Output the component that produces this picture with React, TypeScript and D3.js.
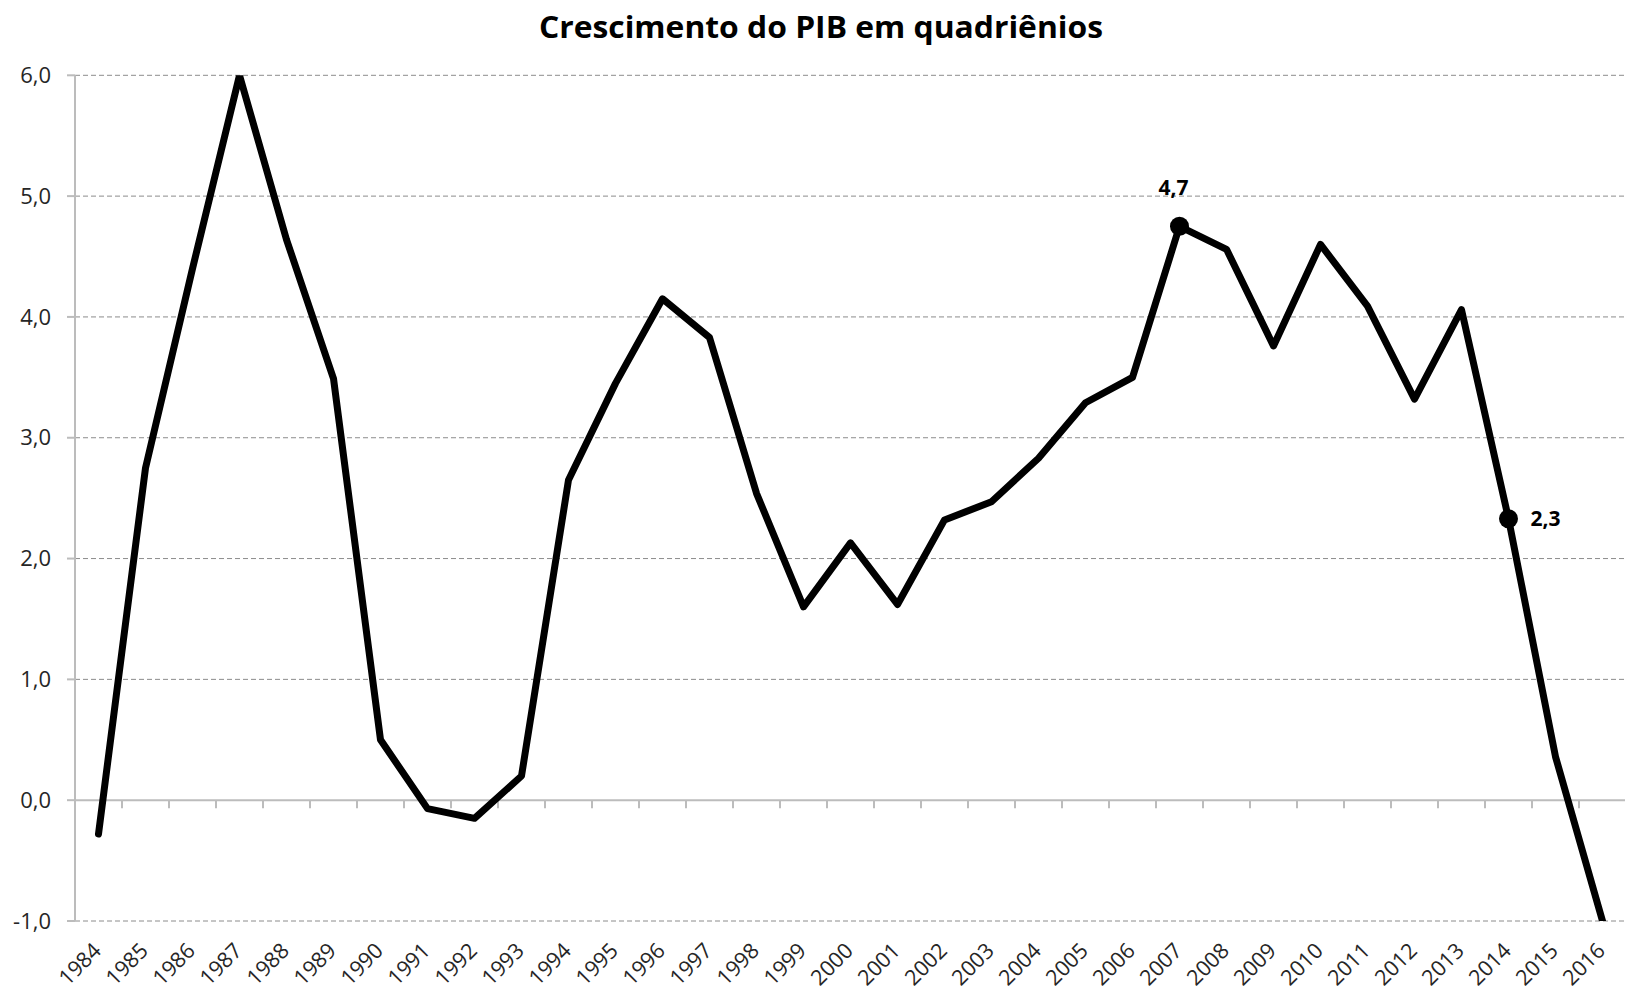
import { line, scaleBand, scaleLinear } from "d3";

const years = [
  "1984", "1985", "1986", "1987", "1988", "1989", "1990", "1991", "1992", "1993", "1994",
  "1995", "1996", "1997", "1998", "1999", "2000", "2001", "2002", "2003", "2004", "2005",
  "2006", "2007", "2008", "2009", "2010", "2011", "2012", "2013", "2014", "2015", "2016",
];

const growth = [
  -0.28, 2.75, 4.4, 6.0, 4.64, 3.49, 0.5, -0.07, -0.15, 0.2, 2.65,
  3.45, 4.15, 3.83, 2.54, 1.6, 2.13, 1.62, 2.32, 2.47, 2.83, 3.29,
  3.5, 4.75, 4.56, 3.76, 4.6, 4.09, 3.32, 4.06, 2.33, 0.36, -1.0,
];

const yTicks = [-1, 0, 1, 2, 3, 4, 5, 6];

// points that carry a marker and a value label
const highlighted = [
  { year: "2007", label: "4,7", pos: "above" },
  { year: "2014", label: "2,3", pos: "right" },
];

const title = "Crescimento do PIB em quadriênios";

const font = "'Open Sans', 'Liberation Sans', sans-serif";

const App = () => {
  const width = 1625;
  const height = 995;
  const left = 75;
  const top = 75.3;
  const bottom = 921;

  const scaleX = scaleBand<string>()
    .domain(years)
    .range([left, left + years.length * 47])
    .padding(0);

  const scaleY = scaleLinear().domain([-1, 6]).range([bottom, top]);

  const cx = (y: string) => (scaleX(y) ?? 0) + scaleX.bandwidth() / 2;

  const path = line<number>()
    .x((_, i) => cx(years[i]))
    .y((d) => scaleY(d))(growth);

  const fmt = (v: number) => v.toFixed(1).replace(".", ",");

  return (
    <svg
      width={width}
      height={height}
      style={{ position: "absolute", left: 0, top: 0, background: "#fff" }}
      fontFamily={font}
    >
      <defs>
        <clipPath id="plot">
          <rect x={left} y={top} width={width - left} height={bottom - top} />
        </clipPath>
      </defs>

      <text x={821} y={38} textAnchor="middle" fontSize={30} fontWeight="bold" fill="#000"
        textLength={564} lengthAdjust="spacingAndGlyphs">
        {title}
      </text>

      {/* gridlines */}
      {yTicks.filter((t) => t !== 0).map((t) => (
        <line key={`g-${t}`} x1={left} x2={width} y1={scaleY(t)} y2={scaleY(t)}
          stroke="#8c8c8c" strokeWidth={1} strokeDasharray="5,3" />
      ))}

      {/* y axis */}
      <line x1={left} x2={left} y1={top} y2={bottom} stroke="#bcbcbc" strokeWidth={2} />
      {yTicks.map((t) => (
        <g key={`y-${t}`}>
          <line x1={left - 8} x2={left} y1={scaleY(t)} y2={scaleY(t)} stroke="#bcbcbc" strokeWidth={2} />
          <text x={51} y={scaleY(t)} dy="0.35em" textAnchor="end" fontSize={22} fill="#262626">
            {fmt(t)}
          </text>
        </g>
      ))}

      {/* x axis at zero */}
      <line x1={left} x2={width} y1={scaleY(0)} y2={scaleY(0)} stroke="#bcbcbc" strokeWidth={2} />
      {years.slice(1).map((y) => (
        <line key={`t-${y}`} x1={scaleX(y)} x2={scaleX(y)} y1={scaleY(0)} y2={scaleY(0) + 8}
          stroke="#bcbcbc" strokeWidth={2} />
      ))}
      {years.map((y) => (
        <text key={`x-${y}`} transform={`translate(${cx(y) + 4}, 952) rotate(-45)`}
          textAnchor="end" fontSize={21.5} fill="#262626">
          {y}
        </text>
      ))}

      {/* series */}
      <g clipPath="url(#plot)">
        <path d={path ?? ""} fill="none" stroke="#000" strokeWidth={7}
          strokeLinejoin="round" strokeLinecap="round" />
      </g>

      {highlighted.map((h) => {
        const i = years.indexOf(h.year);
        const x = cx(h.year);
        const y = scaleY(growth[i]);
        return (
          <g key={`h-${h.year}`}>
            <circle cx={x} cy={y} r={9.5} fill="#000" />
            {h.pos === "above" ? (
              <text x={x - 6} y={y - 31} textAnchor="middle" fontSize={21} fontWeight="bold" fill="#000">
                {h.label}
              </text>
            ) : (
              <text x={x + 22} y={y} dy="0.35em" textAnchor="start" fontSize={21} fontWeight="bold" fill="#000">
                {h.label}
              </text>
            )}
          </g>
        );
      })}
    </svg>
  );
};

export default App;
